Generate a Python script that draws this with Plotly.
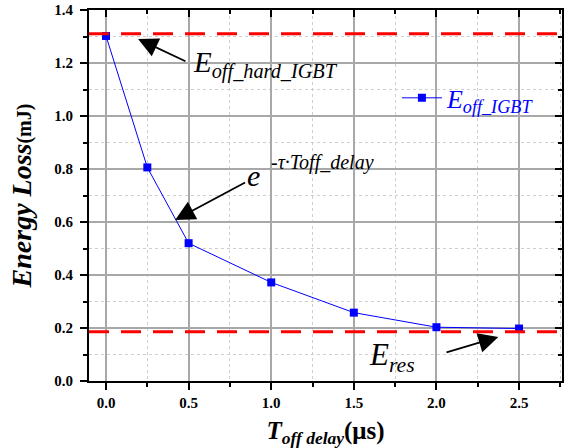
import plotly.graph_objects as go

# Data
t_delay = [0.0, 0.25, 0.5, 1.0, 1.5, 2.0, 2.5]
e_off_igbt = [1.302, 0.806, 0.52, 0.372, 0.258, 0.203, 0.198]
e_off_hard = 1.31
e_res = 0.186

x_ticks = [0.0, 0.5, 1.0, 1.5, 2.0, 2.5]
x_ticklabels = ["0.0", "0.5", "1.0", "1.5", "2.0", "2.5"]
y_ticks = [0.0, 0.2, 0.4, 0.6, 0.8, 1.0, 1.2, 1.4]
y_ticklabels = ["0.0", "0.2", "0.4", "0.6", "0.8", "1.0", "1.2", "1.4"]

FONT = "Liberation Serif"
XR = [-0.103, 2.76]
YR = [0, 1.4]

fig = go.Figure()

fig.add_trace(go.Scatter(
    x=t_delay, y=e_off_igbt, mode="lines+markers",
    name="<i>E<sub>off_IGBT</sub></i>",
    line=dict(color="#0000ff", width=1),
    marker=dict(symbol="square", size=8, color="#0000ff"),
))
# invisible trace to host mirrored axes
fig.add_trace(go.Scatter(x=[XR[0]], y=[YR[0]], xaxis="x2", yaxis="y2",
                         mode="markers", marker=dict(opacity=0),
                         showlegend=False, hoverinfo="skip"))

# red dashed reference lines
for yv in (e_off_hard, e_res):
    fig.add_shape(type="line", xref="paper", x0=0, x1=1, yref="y", y0=yv, y1=yv,
                  line=dict(color="#ff0000", width=3, dash="20px,12px"), layer="above")

axis_common = dict(showline=True, linecolor="black", linewidth=2,
                   tickcolor="black", tickwidth=2, ticklen=7,
                   zeroline=False, automargin=False)

fig.update_layout(
    width=570, height=448,
    margin=dict(l=89, r=8, t=10, b=67),
    paper_bgcolor="white", plot_bgcolor="white",
    font=dict(family=FONT, color="black"),
    xaxis=dict(range=XR, tickvals=x_ticks, ticktext=["<b>%s</b>" % s for s in x_ticklabels],
               ticks="outside", ticklabeloverflow="allow",
               showgrid=True, gridcolor="#a8a8a8", gridwidth=1.5,
               minor=dict(dtick=0.25, tick0=0, ticks="outside", ticklen=4, tickwidth=2,
                          tickcolor="black", showgrid=True, gridcolor="#cfcfcf",
                          griddash="dot", gridwidth=1),
               tickfont=dict(size=15, family=FONT),
               title=dict(text="<b><i>T</i></b><sub><b><i>off delay</i></b></sub><b>(μs)</b>",
                          font=dict(size=25, family=FONT), standoff=11),
               **axis_common),
    yaxis=dict(range=YR, tickvals=y_ticks, ticktext=["<b>%s</b>" % s for s in y_ticklabels],
               ticks="outside", ticklabelstandoff=4, ticklabeloverflow="allow",
               showgrid=True, gridcolor="#a8a8a8", gridwidth=1.5,
               minor=dict(dtick=0.1, tick0=0, ticks="outside", ticklen=4, tickwidth=2,
                          tickcolor="black", showgrid=True, gridcolor="#cfcfcf",
                          griddash="dot", gridwidth=1),
               tickfont=dict(size=15, family=FONT),
               title=dict(text="<b><i>Energy Loss</i><span style='font-size:20px'>(mJ)</span></b>",
                          font=dict(size=28, family=FONT), standoff=14),
               **axis_common),
    xaxis2=dict(overlaying="x", side="top", matches="x", range=XR, tickvals=x_ticks,
                showticklabels=False, ticks="inside", showgrid=False,
                minor=dict(dtick=0.25, tick0=0, ticks="inside", ticklen=4, tickwidth=2,
                           tickcolor="black", showgrid=False),
                **axis_common),
    yaxis2=dict(overlaying="y", side="right", matches="y", range=YR, tickvals=y_ticks,
                showticklabels=False, ticks="inside", showgrid=False,
                minor=dict(dtick=0.1, tick0=0, ticks="inside", ticklen=4, tickwidth=2,
                           tickcolor="black", showgrid=False),
                **axis_common),
    showlegend=True,
    legend=dict(x=0.651, y=0.763, xanchor="left", yanchor="middle",
                bgcolor="rgba(0,0,0,0)", font=dict(size=26, family=FONT, color="#0000ff"),
                itemwidth=40),
)

arrow = dict(showarrow=True, arrowhead=2, arrowsize=2.2, arrowwidth=1.8,
             arrowcolor="black", axref="x", ayref="y", text="")
# arrows (head at x,y ; tail at ax,ay)
fig.add_annotation(x=0.194, y=1.291, ax=0.49, ay=1.204, **arrow)
fig.add_annotation(x=0.418, y=0.608, ax=0.851, ay=0.752, **arrow)
fig.add_annotation(x=2.375, y=0.166, ax=2.052, ay=0.106, **arrow)

# text labels
fig.add_annotation(x=0.515, y=1.193, xanchor="left", yanchor="middle", showarrow=False,
                   text="<i>E<sub>off_hard_IGBT</sub></i>",
                   font=dict(size=29, family=FONT, color="black"))
fig.add_annotation(x=0.89, y=0.777, xanchor="center", yanchor="middle", showarrow=False,
                   text="<i>e</i>", font=dict(size=30, family=FONT, color="black"))
fig.add_annotation(x=0.985, y=0.823, xanchor="left", yanchor="middle", showarrow=False,
                   text="<i>-τ·Toff_delay</i>", font=dict(size=20, family=FONT, color="black"))
fig.add_annotation(x=1.58, y=0.09, xanchor="left", yanchor="middle", showarrow=False,
                   text="<i>E<sub>res</sub></i>", font=dict(size=31, family=FONT, color="black"))

fig.write_html("out.html", config={"displayModeBar": False},
               post_script="document.body.style.margin='0';document.body.style.overflow='hidden';")
